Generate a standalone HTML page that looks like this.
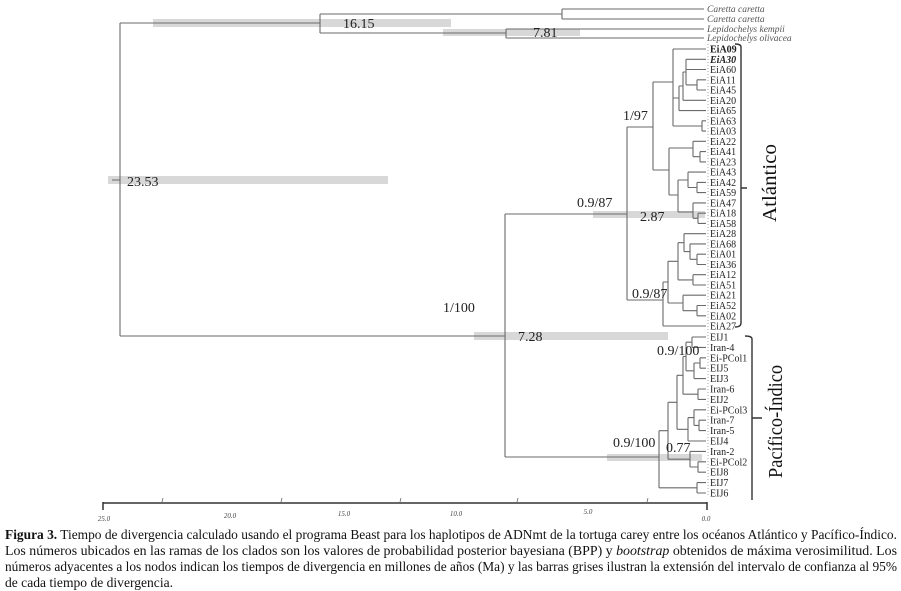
<!DOCTYPE html>
<html><head><meta charset="utf-8"><style>
html,body{margin:0;padding:0;background:#fff;}
svg{display:block;}
text{font-family:"Liberation Serif","DejaVu Serif",serif;}
</style></head><body>
<svg width="901" height="591" viewBox="0 0 901 591" xmlns="http://www.w3.org/2000/svg">
<rect width="901" height="591" fill="#fff"/>
<!-- HPD bars -->
<g fill="#d8d8d8">
<rect x="153" y="19" width="298" height="8"/>
<rect x="443" y="29" width="137" height="7"/>
<rect x="108" y="176" width="280" height="8"/>
<rect x="474" y="332" width="194" height="8"/>
<rect x="593" y="211" width="112" height="7"/>
<rect x="607" y="454" width="95" height="7"/>
</g>
<!-- dotted tip alignment -->
<line x1="708" y1="44" x2="708" y2="497" stroke="#aaa" stroke-width="1" stroke-dasharray="1 2"/>
<!-- tree -->
<path fill="none" stroke="#6a6a6a" stroke-width="1.1" d="
M120,23 V336 M120,23 H320 M320,14 V33 M320,14 H562 M562,9 V19 M562,9 H704 M562,19 H704
M320,33 H506 M506,29 V38 M506,29 H704 M506,38 H704
M120,336 H505 M505,214 V457 M505,214 H627 M505,457 H659
M112,180 H120
M627,127 V300 M627,127 H653 M627,300 H663
M653,82 V170 M653,82 H673 M653,170 H669
M673,49 V126 M673,49 H706 M673,98 H679 M673,126 H702
M702,120.8 V131.1 M702,120.8 H706 M702,131.1 H706
M679,86 V110.6 M679,110.6 H706 M679,86 H683
M683,72 V100.3 M683,100.3 H706 M683,72 H686
M686,59.3 V84.9 M686,59.3 H706 M686,69.5 H706 M686,84.9 H697
M697,79.8 V90 M697,79.8 H706 M697,90 H706
M669,148 V195 M669,148 H693 M669,195 H678
M693,141.3 V156.7 M693,141.3 H706 M693,156.7 H700
M700,151.6 V161.9 M700,151.6 H706 M700,161.9 H706
M678,180 V212 M678,180 H688 M678,212 H693
M688,172.1 V187.5 M688,172.1 H706 M688,187.5 H697
M697,182.4 V192.6 M697,182.4 H706 M697,192.6 H706
M693,202.9 V218.3 M693,202.9 H706 M693,218.3 H698
M698,213.2 V223.4 M698,213.2 H706 M698,223.4 H706
M663,282 V326 M663,282 H668 M663,326 H706
M668,261.3 V303 M668,261.3 H678 M668,303 H683
M678,242.7 V279.9 M678,242.7 H684 M678,279.9 H693
M684,233.7 V251.6 M684,233.7 H706 M684,251.6 H690
M690,243.9 V259.3 M690,243.9 H706 M690,259.3 H697
M697,254.2 V264.5 M697,254.2 H706 M697,264.5 H706
M693,274.7 V285 M693,274.7 H706 M693,285 H706
M683,295.2 V310.7 M683,295.2 H706 M683,310.7 H697
M697,305.5 V315.8 M697,305.5 H706 M697,315.8 H706
M659,430.7 V487.8 M659,430.7 H668 M659,487.8 H697
M697,482.6 V493 M697,482.6 H706 M697,493 H706
M668,402.3 V459.2 M668,402.3 H677 M668,459.2 H690
M690,451.4 V467 M690,451.4 H706 M690,467 H698
M698,461.8 V472.2 M698,461.8 H706 M698,472.2 H706
M677,375.3 V429.3 M677,375.3 H683 M677,429.3 H688
M688,417.6 V441 M688,441 H706 M688,417.6 H694
M694,409.8 V425.4 M694,409.8 H706 M694,425.4 H699
M699,420.2 V430.6 M699,420.2 H706 M699,430.6 H706
M683,356.5 V394.2 M683,356.5 H686 M683,394.2 H698
M698,389 V399.4 M698,389 H706 M698,399.4 H706
M686,342.2 V370.8 M686,342.2 H692 M686,370.8 H694
M692,337 V347.4 M692,337 H706 M692,347.4 H706
M694,363 V378.6 M694,378.6 H706 M694,363 H700
M700,357.8 V368.2 M700,357.8 H706 M700,368.2 H706
"/>
<!-- node labels -->
<g font-size="14" fill="#222">
<text x="343" y="28">16.15</text>
<text x="533" y="37">7.81</text>
<text x="127" y="186">23.53</text>
<text x="518" y="341">7.28</text>
<text x="640" y="221">2.87</text>
<text x="666" y="452">0.77</text>
<text x="443" y="312">1/100</text>
<text x="577" y="207">0.9/87</text>
<text x="632" y="298">0.9/87</text>
<text x="623" y="120">1/97</text>
<text x="657" y="355">0.9/100</text>
<text x="613" y="447">0.9/100</text>
</g>
<!-- outgroup labels -->
<g font-size="9.5" font-style="italic" fill="#555">
<text x="707" y="12">Caretta caretta</text>
<text x="707" y="22">Caretta caretta</text>
<text x="707" y="32">Lepidochelys kempii</text>
<text x="707" y="41">Lepidochelys olivacea</text>
</g>
<!-- tip labels -->
<g font-size="10" fill="#222">
<text x="710" y="52.5" font-weight="bold">EiA09</text>
<text x="710" y="62.8" font-weight="bold" font-style="italic">EiA30</text>
<text x="710" y="73">EiA60</text>
<text x="710" y="83.3">EiA11</text>
<text x="710" y="93.5">EiA45</text>
<text x="710" y="103.8">EiA20</text>
<text x="710" y="114.1">EiA65</text>
<text x="710" y="124.3">EiA63</text>
<text x="710" y="134.6">EiA03</text>
<text x="710" y="144.8">EiA22</text>
<text x="710" y="155.1">EiA41</text>
<text x="710" y="165.4">EiA23</text>
<text x="710" y="175.6">EiA43</text>
<text x="710" y="185.9">EiA42</text>
<text x="710" y="196.1">EiA59</text>
<text x="710" y="206.4">EiA47</text>
<text x="710" y="216.7">EiA18</text>
<text x="710" y="226.9">EiA58</text>
<text x="710" y="237.2">EiA28</text>
<text x="710" y="247.4">EiA68</text>
<text x="710" y="257.7">EiA01</text>
<text x="710" y="268">EiA36</text>
<text x="710" y="278.2">EiA12</text>
<text x="710" y="288.5">EiA51</text>
<text x="710" y="298.7">EiA21</text>
<text x="710" y="309">EiA52</text>
<text x="710" y="319.3">EiA02</text>
<text x="710" y="329.5">EiA27</text>
<text x="710" y="340.5">EIJ1</text>
<text x="710" y="350.9">Iran-4</text>
<text x="710" y="361.3">Ei-PCol1</text>
<text x="710" y="371.7">EIJ5</text>
<text x="710" y="382.1">EIJ3</text>
<text x="710" y="392.5">Iran-6</text>
<text x="710" y="402.9">EIJ2</text>
<text x="710" y="413.3">Ei-PCol3</text>
<text x="710" y="423.7">Iran-7</text>
<text x="710" y="434.1">Iran-5</text>
<text x="710" y="444.5">EIJ4</text>
<text x="710" y="454.9">Iran-2</text>
<text x="710" y="465.3">Ei-PCol2</text>
<text x="710" y="475.7">EIJ8</text>
<text x="710" y="486.1">EIJ7</text>
<text x="710" y="496.5">EIJ6</text>
</g>
<!-- brackets -->
<path fill="none" stroke="#333" stroke-width="1.4" d="
M735,44 Q741,44 741,47 V323 Q741,327 735,327 M741,188 H747
M745,336 Q752,336 752,339 V500 M752,418 H762"/>
<text font-size="20" fill="#111" transform="translate(776,222) rotate(-90)" textLength="78" lengthAdjust="spacingAndGlyphs">Atlántico</text>
<text font-size="20" fill="#111" transform="translate(782,478) rotate(-90)" textLength="113" lengthAdjust="spacingAndGlyphs">Pacífico-Índico</text>
<!-- axis -->
<path fill="none" stroke="#333" stroke-width="1.5" d="M103,503 H707 M103,502 V510 M707,502 V510"/>
<path fill="none" stroke="#666" stroke-width="0.8" d="M163,498 L162,502 M282,498 L281,502 M401,498 L400,502 M518,498 L517,502 M648,498 L647,502"/>
<g font-size="7" font-style="italic" fill="#444" text-anchor="middle">
<text x="104" y="521">25.0</text>
<text x="230" y="518">20.0</text>
<text x="344" y="516">15.0</text>
<text x="456" y="516">10.0</text>
<text x="588" y="514">5.0</text>
<text x="706" y="521">0.0</text>
</g>
<!-- caption -->
<g font-size="14" fill="#111">
<text x="5" y="539" textLength="892" lengthAdjust="spacingAndGlyphs"><tspan font-weight="bold">Figura 3.</tspan> Tiempo de divergencia calculado usando el programa Beast para los haplotipos de ADNmt de la tortuga carey entre los océanos Atlántico y Pacífico-Índico.</text>
<text x="5" y="555" textLength="892" lengthAdjust="spacingAndGlyphs">Los números ubicados en las ramas de los clados son los valores de probabilidad posterior bayesiana (BPP) y <tspan font-style="italic">bootstrap</tspan> obtenidos de máxima verosimilitud. Los</text>
<text x="5" y="571" textLength="892" lengthAdjust="spacingAndGlyphs">números adyacentes a los nodos indican los tiempos de divergencia en millones de años (Ma) y las barras grises ilustran la extensión del intervalo de confianza al 95%</text>
<text x="5" y="587" textLength="168" lengthAdjust="spacingAndGlyphs">de cada tiempo de divergencia.</text>
</g>
</svg>
</body></html>
